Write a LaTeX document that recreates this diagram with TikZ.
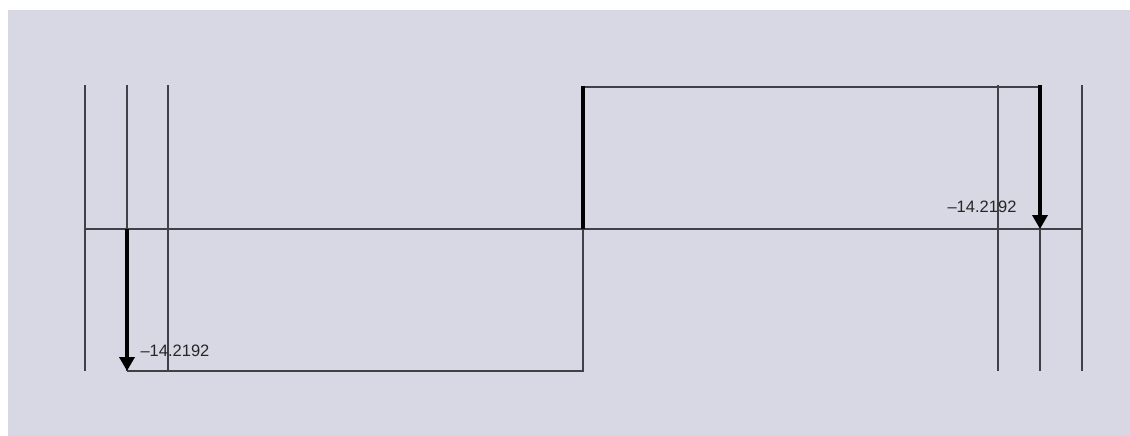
\documentclass[tikz,border=0pt]{standalone}
\usepackage{fontspec}
\setmainfont{Liberation Sans}
\usetikzlibrary{arrows.meta}
\definecolor{panel}{RGB}{216,216,228}
\definecolor{lineGray}{RGB}{64,64,70}

\begin{document}
\begin{tikzpicture}[
    x=0.02cm, y=-0.02cm,
    font=\fontsize{9.4}{10}\selectfont,
    % Line styles
    thinline/.style={draw=lineGray, line width=0.6pt},
    bar/.style={draw=black, line width=2.7pt},
    load/.style={draw=black, line width=2.7pt, -{Triangle[length=0.28cm, width=0.3cm]}},
    value/.style={inner sep=0pt, text=black!85},
]

% Frame
\fill[white] (0,0) rectangle (1130,436);
\fill[panel] (8,10) rectangle (1130,436);
\useasboundingbox (0,0) rectangle (1130,436);

% Reference lines
\foreach \x/\n in {85/a, 127/b, 168/c, 998/d, 1040/e, 1082/f} {
    \coordinate (top\n) at (\x,85);
    \coordinate (bot\n) at (\x,371);
    \draw[thinline] (top\n) -- (bot\n);
}

% Axis
\coordinate (axisL) at (85,229);
\coordinate (axisR) at (1082,229);
\draw[thinline] (axisL) -- (axisR);

% Shear outline
\coordinate (shearA) at (127,371);
\coordinate (shearB) at (583,371);
\coordinate (shearC) at (583,229);
\coordinate (shearD) at (583,86);
\coordinate (shearE) at (1040,87);
\draw[thinline] (shearA) -- (shearB) -- (shearC);
\draw[thinline] (shearD |- shearE) -- (shearE);
\draw[bar] (shearC) -- (shearD);

% Loads
\coordinate (loadL) at (127,229);
\coordinate (loadR) at (1040,229);
\draw[load] (loadL) -- (botb);
\draw[load] (tope) -- (loadR);

% Values
\node[value] (valL) at (175,351) {–14.2192};
\node[value] (valR) at (982,207) {–14.2192};

\end{tikzpicture}
\end{document}
